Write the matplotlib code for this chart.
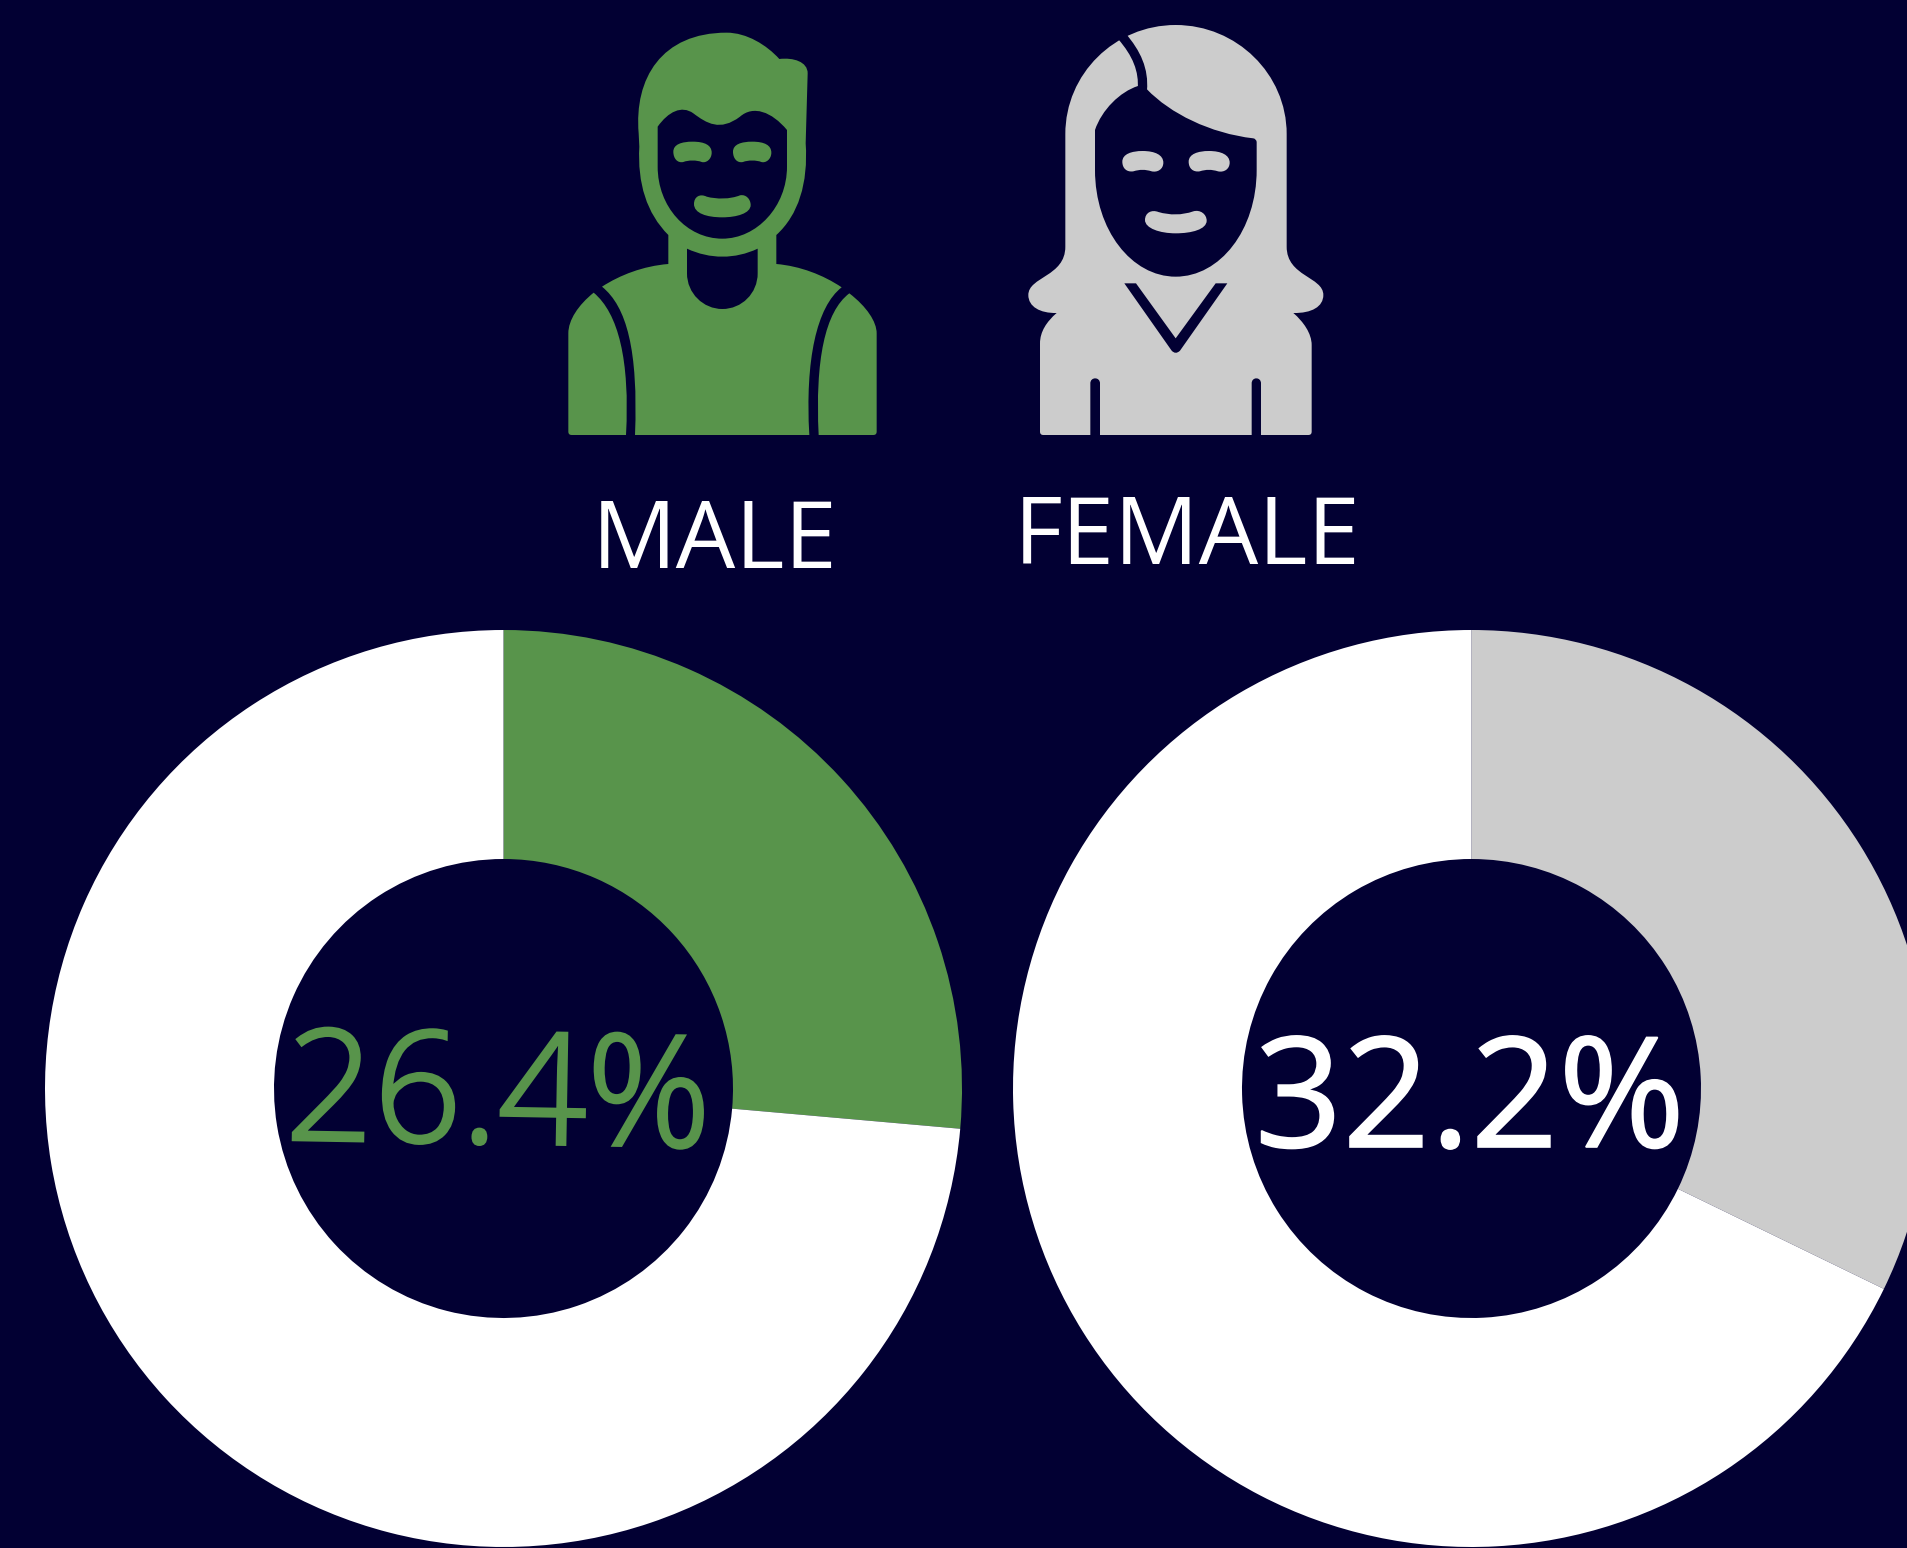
import matplotlib
matplotlib.use("Agg")
import matplotlib.pyplot as plt
import matplotlib.patheffects as pe
from matplotlib.path import Path
from matplotlib.patches import PathPatch

# ---- data ----
categories = ["MALE", "FEMALE"]
shares = [26.4, 32.2]
share_labels = ["26.4%", "32.2%"]

BG = "#020033"
GREEN = "#58944B"
GREY = "#CCCCCC"
WHITE = "#FFFFFF"
W, H = 1907, 1548

fig = plt.figure(figsize=(W / 100, H / 100), dpi=100, facecolor=BG)
ax = fig.add_axes([0, 0, 1, 1], facecolor=BG)


def donut(center, share, colour):
    ax.pie([share, 100 - share], colors=[colour, WHITE], startangle=90,
           counterclock=False, center=center, radius=458.5, frame=True,
           wedgeprops=dict(width=229, linewidth=0))


donut((503.5, H - 1088.5), shares[0], GREEN)
donut((1471.5, H - 1088.5), shares[1], GREY)


def shape(cmds, off, colour, stroke=None):
    """Decorative icon outline; cmds are (code, x, y, ...) in icon pixels x3."""
    verts, codes = [], []
    for c in cmds:
        op, pts = c[0], c[1:]
        xy = [(off[0] + pts[i] / 3, H - (off[1] + pts[i + 1] / 3))
              for i in range(0, len(pts), 2)]
        verts += xy
        codes += {"M": [Path.MOVETO], "L": [Path.LINETO],
                  "Q": [Path.CURVE3] * 2, "C": [Path.CURVE4] * 3}[op]
    if stroke is None:
        verts.append(verts[0])
        codes.append(Path.CLOSEPOLY)
        ax.add_patch(PathPatch(Path(verts, codes), fc=colour, ec="none", lw=0, zorder=3))
    else:
        ax.add_patch(PathPatch(Path(verts, codes), fc="none", ec=colour, lw=stroke,
                               capstyle="butt", zorder=4))


def eye(dx, colour, off, pts):
    shape([(p[0],) + tuple(v + (dx if i % 2 == 0 else 0) for i, v in enumerate(p[1:]))
           for p in pts], off, colour)


# ---- male icon ----
m = (540, 10)
shape([("M", 296, 370), ("C", 282, 205, 365, 68, 560, 68), ("C", 620, 68, 680, 105, 718, 147),
       ("C", 760, 142, 803, 155, 803, 190), ("L", 797, 400), ("C", 805, 520, 775, 615, 709, 675),
       ("L", 709, 762), ("C", 780, 768, 850, 795, 905, 832), ("C", 830, 890, 795, 1050, 808, 1275),
       ("L", 285, 1275), ("C", 295, 1020, 260, 890, 186, 830), ("C", 240, 795, 310, 768, 385, 762),
       ("L", 385, 675), ("C", 320, 610, 292, 520, 298, 410)], m, GREEN)
shape([("M", 161, 848), ("C", 235, 910, 270, 1050, 258, 1275), ("L", 95, 1275),
       ("Q", 85, 1275, 85, 1265), ("L", 85, 970), ("C", 85, 930, 115, 885, 161, 848)], m, GREEN)
shape([("M", 928, 850), ("C", 855, 905, 825, 1050, 836, 1275), ("L", 1000, 1275),
       ("Q", 1010, 1275, 1010, 1265), ("L", 1010, 970), ("C", 1010, 935, 980, 890, 928, 850)], m, GREEN)
shape([("M", 353, 350), ("C", 385, 305, 425, 285, 460, 310), ("C", 500, 340, 540, 365, 600, 320),
       ("C", 640, 285, 695, 305, 741, 360), ("L", 741, 470), ("C", 741, 590, 650, 686, 547, 686),
       ("C", 440, 686, 353, 590, 353, 470)], m, BG)
shape([("M", 441, 716), ("C", 510, 748, 585, 748, 653, 716), ("L", 653, 790),
       ("C", 653, 850, 605, 897, 547, 897), ("C", 490, 897, 441, 850, 441, 790)], m, BG)
m_eye = [("M", 400, 425), ("C", 400, 403, 425, 395, 458, 395), ("C", 495, 395, 515, 406, 515, 428),
         ("C", 515, 448, 498, 460, 485, 456), ("C", 470, 450, 445, 450, 430, 456),
         ("C", 412, 460, 400, 445, 400, 425)]
eye(0, GREEN, m, m_eye)
eye(179, GREEN, m, m_eye)
shape([("M", 462, 582), ("C", 462, 560, 480, 550, 500, 560), ("C", 530, 568, 570, 568, 600, 556),
       ("C", 618, 552, 632, 568, 632, 585), ("C", 632, 610, 590, 622, 547, 622),
       ("C", 500, 622, 462, 610, 462, 582)], m, GREEN)

# ---- female icon ----
f = (1010, 10)
shape([("M", 166, 372), ("C", 166, 192, 314, 45, 497, 45), ("C", 680, 45, 830, 192, 830, 372),
       ("L", 830, 710), ("C", 830, 800, 940, 800, 940, 855), ("C", 940, 890, 905, 910, 850, 909),
       ("C", 880, 935, 905, 970, 905, 1005), ("L", 905, 1265), ("Q", 905, 1275, 895, 1275),
       ("L", 753, 1275), ("L", 753, 1120), ("C", 753, 1100, 725, 1100, 725, 1120), ("L", 725, 1275),
       ("L", 270, 1275), ("L", 270, 1120), ("C", 270, 1100, 241, 1100, 241, 1120), ("L", 241, 1275),
       ("L", 100, 1275), ("Q", 90, 1275, 90, 1265), ("L", 90, 1000), ("C", 90, 965, 110, 935, 140, 909),
       ("C", 90, 910, 55, 890, 55, 855), ("C", 55, 800, 166, 800, 166, 710)], f, GREY)
shape([("M", 335, 78), ("C", 380, 130, 402, 180, 397, 240)], f, BG, stroke=6.7)
shape([("M", 255, 360), ("C", 275, 300, 330, 245, 384, 228), ("L", 411, 238),
       ("C", 480, 310, 600, 370, 730, 385), ("Q", 740, 387, 740, 397), ("L", 740, 480),
       ("C", 740, 660, 630, 800, 497, 800), ("C", 365, 800, 255, 660, 255, 480)], f, BG)
shape([("M", 343, 820), ("L", 378, 820), ("L", 497, 985), ("L", 617, 820), ("L", 652, 820),
       ("L", 510, 1022), ("Q", 497, 1035, 485, 1022)], f, BG)
f_eye = [("M", 337, 455), ("C", 337, 432, 365, 423, 398, 423), ("C", 435, 423, 460, 435, 460, 458),
         ("C", 460, 478, 442, 488, 425, 484), ("C", 405, 478, 390, 478, 370, 484),
         ("C", 350, 487, 337, 475, 337, 455)]
eye(0, GREY, f, f_eye)
eye(199, GREY, f, f_eye)
shape([("M", 405, 630), ("C", 405, 608, 425, 598, 445, 606), ("C", 480, 616, 515, 616, 550, 604),
       ("C", 570, 598, 590, 612, 590, 632), ("C", 590, 658, 545, 670, 497, 670),
       ("C", 450, 670, 405, 655, 405, 630)], f, GREY)

# ---- text ----
ax.text(714.5, H - 568, categories[0], color=WHITE, fontsize=67.8, family="Open Sans",
        ha="center", va="baseline", zorder=5)
ax.text(1187, H - 564, categories[1], color=WHITE, fontsize=67.8, family="Open Sans",
        ha="center", va="baseline", zorder=5)
green_label = ax.text(497.5, H - 1143, share_labels[0], color=GREEN, fontsize=111,
                      family="Open Sans", fontweight="light", ha="center", va="baseline",
                      rotation=-1, rotation_mode="anchor", zorder=5)
green_label.set_path_effects([pe.withStroke(linewidth=2.6, foreground=GREEN, joinstyle="miter")])
white_label = ax.text(1470, H - 1147, share_labels[1], color=WHITE, fontsize=110.5,
                      family="Open Sans", ha="center", va="baseline", zorder=5)
white_label.set_path_effects([pe.withStroke(linewidth=1.2, foreground=WHITE, joinstyle="miter")])

ax.set_xlim(0, W)
ax.set_ylim(0, H)
ax.set_aspect("equal")
ax.axis("off")
fig.savefig("out.png", dpi=100, facecolor=BG)
